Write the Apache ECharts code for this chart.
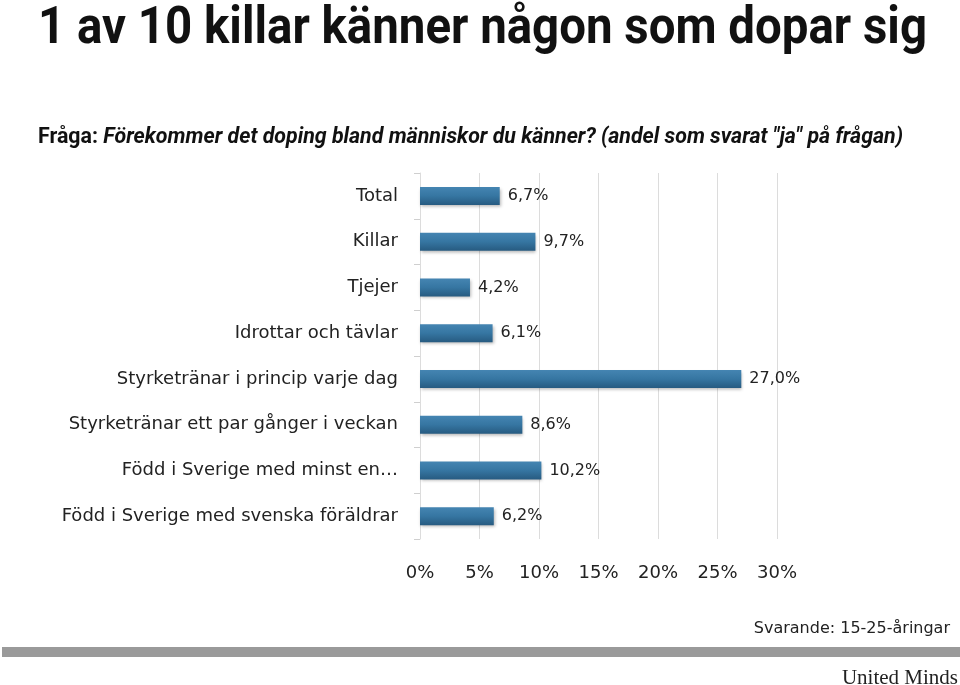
<!DOCTYPE html>
<html><head><meta charset="utf-8">
<script src="https://cdn.jsdelivr.net/npm/echarts@6/dist/echarts.min.js"></script>
<style>html,body{margin:0;padding:0;background:#fff}#c{width:960px;height:685px}</style>
</head><body><div id="c"></div>
<script>
const categories = ["Total","Killar","Tjejer","Idrottar och tävlar","Styrketränar i princip varje dag","Styrketränar ett par gånger i veckan","Född i Sverige med minst en…","Född i Sverige med svenska föräldrar"];
const values = [6.7, 9.7, 4.2, 6.1, 27.0, 8.6, 10.2, 6.2];
const xTicks = [0, 5, 10, 15, 20, 25, 30];
const titleText = '1 av 10 killar känner någon som dopar sig';
const subBold = 'Fråga: ';
const subItalic = 'Förekommer det doping bland människor du känner? (andel som svarat "ja" på frågan)';

const COND = "Roboto, sans-serif";
const BODY = "'DejaVu Sans', sans-serif";
const ctx = document.createElement('canvas').getContext('2d');
function measure(font, t) { ctx.font = font; return ctx.measureText(t).width; }
const titleFont = 'bold 52px ' + COND;
const titleScale = 889 / measure(titleFont, titleText);
const subW = measure('bold 22px ' + COND, subBold) + measure('italic bold 22px ' + COND, subItalic);
const subScale = 865 / subW;

const chart = echarts.init(document.getElementById('c'));
chart.setOption({
  animation: false,
  backgroundColor: '#fff',
  graphic: [
    { type: 'text', x: 38, y: 30, scaleX: titleScale, style: { text: titleText, font: titleFont, fill: '#111', verticalAlign: 'middle' } },
    { type: 'text', x: 38, y: 137, scaleX: subScale, style: { text: '{b|' + subBold + '}{i|' + subItalic + '}', verticalAlign: 'middle',
      rich: { b: { fontFamily: COND, fontWeight: 'bold', fontSize: 22, fill: '#111' },
              i: { fontFamily: COND, fontWeight: 'bold', fontStyle: 'italic', fontSize: 22, fill: '#111' } } } },
    { type: 'text', x: 950, y: 629, style: { text: 'Svarande: 15-25-åringar', font: '16px ' + BODY, fill: '#222', align: 'right', verticalAlign: 'middle' } },
    { type: 'rect', shape: { x: 2, y: 647, width: 958, height: 10 }, style: { fill: '#9a9a9a' } },
    { type: 'text', x: 958, y: 678, style: { text: 'United Minds', font: '21px "Liberation Serif", serif', fill: '#222', align: 'right', verticalAlign: 'middle' } }
  ],
  grid: { left: 420, right: 183, top: 173, bottom: 146 },
  xAxis: {
    type: 'value', min: 0, max: 30, interval: 5,
    axisLine: { show: false }, axisTick: { show: false },
    splitLine: { lineStyle: { color: '#dcdcdc', width: 1 } },
    axisLabel: { formatter: v => xTicks.includes(v) ? v + '%' : '', margin: 25, fontFamily: BODY, fontSize: 18, color: '#222' }
  },
  yAxis: {
    type: 'category', data: categories, inverse: true,
    axisLine: { show: true, lineStyle: { color: '#dcdcdc' } },
    axisTick: { show: true, length: 6, lineStyle: { color: '#cfcfcf' } },
    axisLabel: { margin: 22, fontFamily: BODY, fontSize: 18, color: '#222' }
  },
  series: [{
    type: 'bar', data: values, barWidth: 18,
    itemStyle: {
      color: new echarts.graphic.LinearGradient(0, 0, 0, 1, [
        { offset: 0, color: '#4585b2' }, { offset: 0.5, color: '#3676a2' }, { offset: 1, color: '#275b81' }]),
      shadowColor: 'rgba(0,0,0,0.28)', shadowBlur: 3, shadowOffsetX: 1, shadowOffsetY: 2
    },
    label: { show: true, position: 'right', distance: 8, fontFamily: BODY, fontSize: 16, color: '#222',
      formatter: p => p.value.toFixed(1).replace('.', ',') + '%' }
  }]
});
</script></body></html>
